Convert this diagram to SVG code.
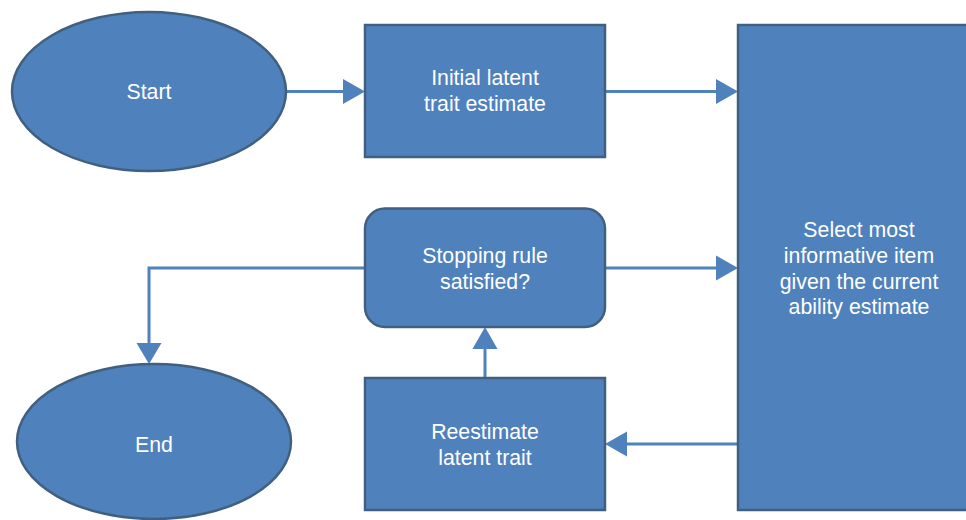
<svg xmlns="http://www.w3.org/2000/svg" width="966" height="520" viewBox="0 0 966 520">
<style>
.n{fill:#4F81BD;stroke:#41607F;stroke-width:2.5}
.t{fill:#ffffff;font-family:"Liberation Sans",Arial,sans-serif;font-size:21.3px;text-anchor:middle}
.c{fill:none;stroke:#4F81BD;stroke-width:3}
.h{fill:#4F81BD;stroke:none}
</style>
<rect width="966" height="520" fill="#ffffff"/>
<g id="connectors">
<path class="c" d="M286 91.5H345"/>
<polygon class="h" points="343,79 365,91.5 343,104"/>
<path class="c" d="M605 91.5H718"/>
<polygon class="h" points="716,79 738,91.5 716,104"/>
<path class="c" d="M605 268H718"/>
<polygon class="h" points="716,255.5 738,268 716,280.5"/>
<path class="c" d="M365 268H149V345"/>
<polygon class="h" points="136.5,343 149,364 161.5,343"/>
<path class="c" d="M738 444H625"/>
<polygon class="h" points="627,431.5 605,444 627,456.5"/>
<path class="c" d="M485 378V347"/>
<polygon class="h" points="472.5,349 485,327 497.5,349"/>
</g>
<g id="start">
<ellipse class="n" cx="149" cy="91.5" rx="137" ry="79.5"/>
<text class="t" x="149" y="99">Start</text>
</g>
<g id="initial">
<rect class="n" x="365" y="25" width="240" height="132"/>
<text class="t" x="485" y="85">Initial latent</text>
<text class="t" x="485" y="111">trait estimate</text>
</g>
<g id="select">
<rect class="n" x="738" y="25" width="250" height="485"/>
<text class="t" x="859" y="237">Select most</text>
<text class="t" x="859" y="263">informative item</text>
<text class="t" x="859" y="289">given the current</text>
<text class="t" x="859" y="314">ability estimate</text>
</g>
<g id="stopping">
<rect class="n" x="365" y="208.5" width="240" height="118.5" rx="20" ry="20"/>
<text class="t" x="485" y="263">Stopping rule</text>
<text class="t" x="485" y="289">satisfied?</text>
</g>
<g id="reestimate">
<rect class="n" x="365" y="378" width="240" height="132"/>
<text class="t" x="485" y="439">Reestimate</text>
<text class="t" x="485" y="465">latent trait</text>
</g>
<g id="end">
<ellipse class="n" cx="154" cy="441.5" rx="137" ry="77.5"/>
<text class="t" x="154" y="452">End</text>
</g>
</svg>
